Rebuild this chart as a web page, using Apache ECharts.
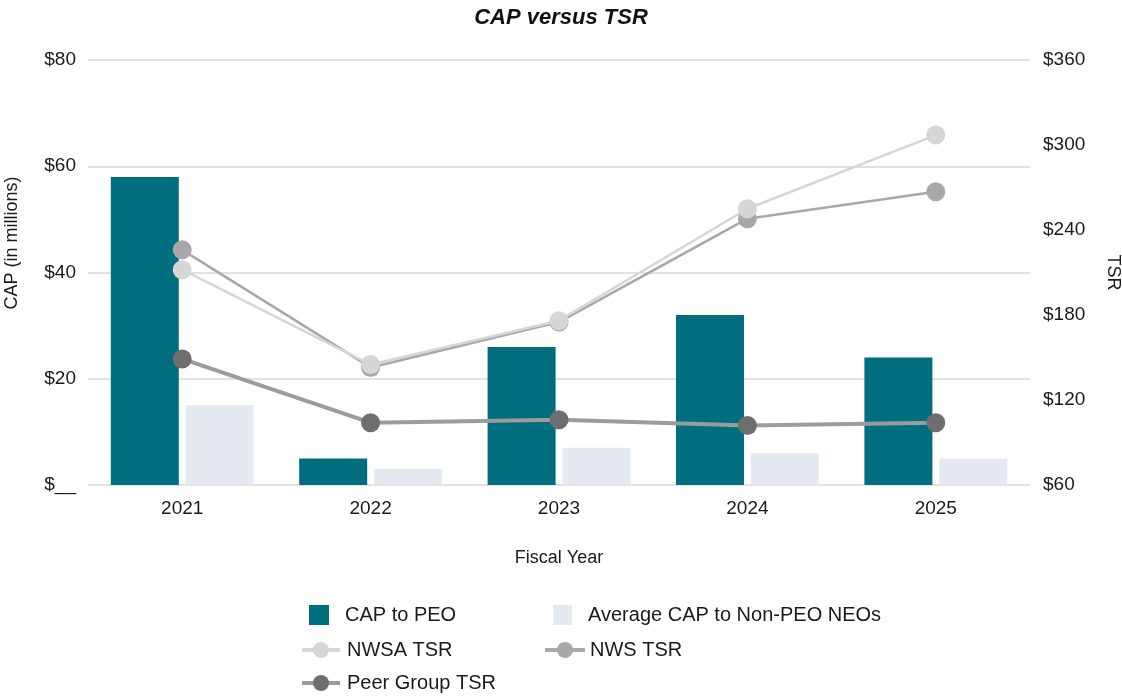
<!DOCTYPE html>
<html><head><meta charset="utf-8">
<script src="https://cdn.jsdelivr.net/npm/echarts@6/dist/echarts.min.js"></script>
<style>html,body{margin:0;padding:0;background:#fff}#c{width:1122px;height:696px}</style>
</head><body><div id="c"></div>
<script>
const years = ['2021','2022','2023','2024','2025'];
const capPEO = [58, 5, 26, 32, 24];
const capNonPEO = [15, 3, 7, 6, 5];
const nwsaTSR = [212, 145, 176, 255, 307];
const nwsTSR = [226, 143, 175, 248, 267];
const peerTSR = [149, 104, 106, 102, 104];
const leftTicks = [0, 20, 40, 60, 80];
const rightTicks = [60, 120, 180, 240, 300, 360];

const font = 'Liberation Sans, Arial, sans-serif';
const chart = echarts.init(document.getElementById('c'));
const mkLegend = (name, left, top, isBar, w, pad) => ({
  data: [name], left: left, top: top, orient: 'horizontal', padding: 0,
  itemWidth: w, itemHeight: 20,
  icon: isBar ? 'rect' : undefined,
  lineStyle: isBar ? undefined : {width: 4},
  textStyle: {fontFamily: font, fontSize: 20, color: '#1a1a1a', padding: [0, 0, 0, pad]},
  selectedMode: false
});
chart.setOption({
  animation: false,
  title: {text: 'CAP versus TSR', left: 'center', top: 2,
    textStyle: {fontFamily: font, fontStyle: 'italic', fontWeight: 'bold', fontSize: 22, color: '#111'}},
  grid: {left: 88, right: 92, top: 60, bottom: 211, outerBoundsMode: 'none', containLabel: false},
  legend: [
    mkLegend('CAP to PEO', 309, 605, true, 20, 11),
    mkLegend('Average CAP to Non-PEO NEOs', 553, 605, true, 19, 11),
    mkLegend('NWSA TSR', 300, 640, false, 38, 2),
    mkLegend('NWS TSR', 543, 640, false, 40, 0),
    mkLegend('Peer Group TSR', 300, 673, false, 38, 2)
  ],
  graphic: [{type: 'text', x: 12, y: 243, rotation: Math.PI / 2,
    style: {text: 'CAP (in millions)', fontFamily: font, fontSize: 18, fill: '#1a1a1a', align: 'center', verticalAlign: 'middle'}}],
  xAxis: {type: 'category', data: years,
    name: 'Fiscal Year', nameLocation: 'middle', nameGap: 64,
    nameTextStyle: {fontFamily: font, fontSize: 18, color: '#1a1a1a'},
    axisLine: {show: false}, axisTick: {show: false},
    axisLabel: {fontFamily: font, fontSize: 19, color: '#1a1a1a', margin: 14}},
  yAxis: [
    {type: 'value', min: leftTicks[0], max: leftTicks[leftTicks.length - 1], interval: 20,
      axisLine: {show: false}, axisTick: {show: false},
      axisLabel: {fontFamily: font, fontSize: 19, color: '#1a1a1a', margin: 12,
        formatter: v => v === 0 ? '$__' : '$' + v},
      splitLine: {lineStyle: {color: '#e2e2e2', width: 2}}},
    {type: 'value', min: rightTicks[0], max: rightTicks[rightTicks.length - 1], interval: 60,
      position: 'right', name: 'TSR', nameLocation: 'middle', nameGap: 74, nameRotate: -90,
      nameTextStyle: {fontFamily: font, fontSize: 18, color: '#1a1a1a'},
      axisLine: {show: false}, axisTick: {show: false},
      axisLabel: {fontFamily: font, fontSize: 19, color: '#1a1a1a', margin: 13, formatter: v => '$' + v},
      splitLine: {show: false}}
  ],
  series: [
    {name: 'CAP to PEO', type: 'bar', data: capPEO, barWidth: 68, barGap: '10%',
      itemStyle: {color: '#006e7f'}},
    {name: 'Average CAP to Non-PEO NEOs', type: 'bar', data: capNonPEO, barWidth: 68,
      itemStyle: {color: '#e4eaf0'}},
    {name: 'Peer Group TSR', type: 'line', yAxisIndex: 1, data: peerTSR,
      symbol: 'circle', symbolSize: 19,
      lineStyle: {color: '#9c9c9c', width: 4}, itemStyle: {color: '#6e6e6e'}},
    {name: 'NWS TSR', type: 'line', yAxisIndex: 1, data: nwsTSR,
      symbol: 'circle', symbolSize: 19,
      lineStyle: {color: '#a8a8a8', width: 2.5}, itemStyle: {color: '#a8a8a8'}},
    {name: 'NWSA TSR', type: 'line', yAxisIndex: 1, data: nwsaTSR,
      symbol: 'circle', symbolSize: 19,
      lineStyle: {color: '#d6d6d6', width: 2.5}, itemStyle: {color: '#d6d6d6'}}
  ]
});
</script></body></html>
